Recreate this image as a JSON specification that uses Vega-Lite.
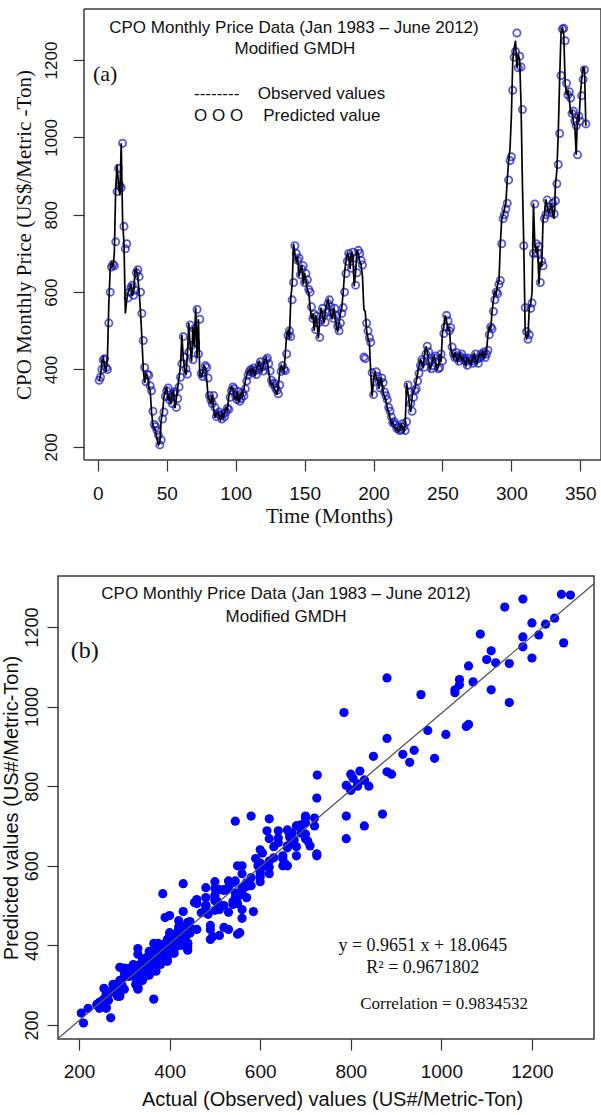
{
"$schema": "https://vega.github.io/schema/vega-lite/v6.json",
"background": "white",
"padding": {"left": 0, "top": 8, "right": 0, "bottom": 0},
"autosize": {"type": "pad"},
"config": {
  "view": {"stroke": "#3a3a3a", "strokeWidth": 1.5},
  "axis": {"grid": false, "domain": false, "tickColor": "#333", "tickWidth": 1.2, "labelColor": "#111", "titleColor": "#111", "labelFont": "Liberation Sans", "titleFontWeight": "normal", "format": "d"},
  "text": {"color": "#111"}
},
"datasets": {"cpo": [
{"month":1,"observed":370,"predicted":372},{"month":2,"observed":385,"predicted":380},{"month":3,"observed":420,"predicted":400},{"month":4,"observed":430,"predicted":425},{"month":5,"observed":410,"predicted":428},{"month":6,"observed":395,"predicted":405},{"month":7,"observed":430,"predicted":400},{"month":8,"observed":570,"predicted":520},{"month":9,"observed":660,"predicted":600},{"month":10,"observed":675,"predicted":665},
{"month":11,"observed":665,"predicted":672},{"month":12,"observed":700,"predicted":668},{"month":13,"observed":870,"predicted":730},{"month":14,"observed":930,"predicted":860},{"month":15,"observed":880,"predicted":920},{"month":16,"observed":850,"predicted":875},{"month":17,"observed":985,"predicted":870},{"month":18,"observed":785,"predicted":985},{"month":19,"observed":725,"predicted":770},{"month":20,"observed":545,"predicted":712},
{"month":21,"observed":580,"predicted":725},{"month":22,"observed":600,"predicted":585},{"month":23,"observed":610,"predicted":600},{"month":24,"observed":620,"predicted":612},{"month":25,"observed":590,"predicted":618},{"month":26,"observed":600,"predicted":592},{"month":27,"observed":655,"predicted":605},{"month":28,"observed":660,"predicted":650},{"month":29,"observed":640,"predicted":658},{"month":30,"observed":600,"predicted":640},
{"month":31,"observed":550,"predicted":600},{"month":32,"observed":480,"predicted":545},{"month":33,"observed":400,"predicted":475},{"month":34,"observed":365,"predicted":405},{"month":35,"observed":390,"predicted":368},{"month":36,"observed":385,"predicted":388},{"month":37,"observed":355,"predicted":385},{"month":38,"observed":345,"predicted":358},{"month":39,"observed":290,"predicted":345},{"month":40,"observed":255,"predicted":292},
{"month":41,"observed":250,"predicted":258},{"month":42,"observed":240,"predicted":252},{"month":43,"observed":220,"predicted":242},{"month":44,"observed":205,"predicted":230},{"month":45,"observed":210,"predicted":205},{"month":46,"observed":270,"predicted":218},{"month":47,"observed":290,"predicted":272},{"month":48,"observed":330,"predicted":290},{"month":49,"observed":345,"predicted":330},{"month":50,"observed":355,"predicted":345},
{"month":51,"observed":320,"predicted":352},{"month":52,"observed":330,"predicted":322},{"month":53,"observed":310,"predicted":328},{"month":54,"observed":340,"predicted":312},{"month":55,"observed":345,"predicted":338},{"month":56,"observed":300,"predicted":343},{"month":57,"observed":325,"predicted":302},{"month":58,"observed":355,"predicted":325},{"month":59,"observed":380,"predicted":355},{"month":60,"observed":410,"predicted":380},
{"month":61,"observed":490,"predicted":415},{"month":62,"observed":430,"predicted":485},{"month":63,"observed":400,"predicted":432},{"month":64,"observed":385,"predicted":402},{"month":65,"observed":440,"predicted":388},{"month":66,"observed":520,"predicted":445},{"month":67,"observed":460,"predicted":515},{"month":68,"observed":420,"predicted":462},{"month":69,"observed":510,"predicted":425},{"month":70,"observed":460,"predicted":505},
{"month":71,"observed":560,"predicted":468},{"month":72,"observed":430,"predicted":555},{"month":73,"observed":530,"predicted":440},{"month":74,"observed":385,"predicted":530},{"month":75,"observed":380,"predicted":390},{"month":76,"observed":390,"predicted":382},{"month":77,"observed":410,"predicted":392},{"month":78,"observed":405,"predicted":410},{"month":79,"observed":375,"predicted":405},{"month":80,"observed":330,"predicted":378},
{"month":81,"observed":320,"predicted":333},{"month":82,"observed":310,"predicted":322},{"month":83,"observed":335,"predicted":312},{"month":84,"observed":300,"predicted":333},{"month":85,"observed":275,"predicted":302},{"month":86,"observed":285,"predicted":278},{"month":87,"observed":290,"predicted":285},{"month":88,"observed":280,"predicted":290},{"month":89,"observed":270,"predicted":282},{"month":90,"observed":285,"predicted":272},
{"month":91,"observed":275,"predicted":285},{"month":92,"observed":290,"predicted":278},{"month":93,"observed":300,"predicted":290},{"month":94,"observed":295,"predicted":300},{"month":95,"observed":330,"predicted":297},{"month":96,"observed":345,"predicted":328},{"month":97,"observed":355,"predicted":345},{"month":98,"observed":350,"predicted":355},{"month":99,"observed":330,"predicted":350},{"month":100,"observed":320,"predicted":332},
{"month":101,"observed":345,"predicted":322},{"month":102,"observed":315,"predicted":343},{"month":103,"observed":325,"predicted":318},{"month":104,"observed":340,"predicted":325},{"month":105,"observed":330,"predicted":340},{"month":106,"observed":350,"predicted":332},{"month":107,"observed":370,"predicted":350},{"month":108,"observed":385,"predicted":370},{"month":109,"observed":395,"predicted":385},{"month":110,"observed":400,"predicted":395},
{"month":111,"observed":390,"predicted":400},{"month":112,"observed":405,"predicted":392},{"month":113,"observed":395,"predicted":404},{"month":114,"observed":385,"predicted":396},{"month":115,"observed":400,"predicted":387},{"month":116,"observed":410,"predicted":400},{"month":117,"observed":420,"predicted":410},{"month":118,"observed":405,"predicted":420},{"month":119,"observed":395,"predicted":406},{"month":120,"observed":410,"predicted":396},
{"month":121,"observed":425,"predicted":410},{"month":122,"observed":430,"predicted":425},{"month":123,"observed":415,"predicted":430},{"month":124,"observed":395,"predicted":415},{"month":125,"observed":370,"predicted":396},{"month":126,"observed":360,"predicted":372},{"month":127,"observed":365,"predicted":362},{"month":128,"observed":350,"predicted":365},{"month":129,"observed":345,"predicted":352},{"month":130,"observed":335,"predicted":346},
{"month":131,"observed":360,"predicted":337},{"month":132,"observed":395,"predicted":360},{"month":133,"observed":410,"predicted":395},{"month":134,"observed":400,"predicted":410},{"month":135,"observed":395,"predicted":400},{"month":136,"observed":440,"predicted":397},{"month":137,"observed":490,"predicted":440},{"month":138,"observed":500,"predicted":488},{"month":139,"observed":480,"predicted":500},{"month":140,"observed":585,"predicted":485},
{"month":141,"observed":620,"predicted":580},{"month":142,"observed":725,"predicted":625},{"month":143,"observed":700,"predicted":720},{"month":144,"observed":680,"predicted":700},{"month":145,"observed":690,"predicted":682},{"month":146,"observed":640,"predicted":688},{"month":147,"observed":660,"predicted":645},{"month":148,"observed":670,"predicted":660},{"month":149,"observed":620,"predicted":668},{"month":150,"observed":650,"predicted":625},
{"month":151,"observed":630,"predicted":648},{"month":152,"observed":605,"predicted":632},{"month":153,"observed":600,"predicted":607},{"month":154,"observed":560,"predicted":600},{"month":155,"observed":530,"predicted":562},{"month":156,"observed":545,"predicted":532},{"month":157,"observed":500,"predicted":543},{"month":158,"observed":540,"predicted":503},{"month":159,"observed":520,"predicted":538},{"month":160,"observed":480,"predicted":520},
{"month":161,"observed":530,"predicted":483},{"month":162,"observed":560,"predicted":528},{"month":163,"observed":540,"predicted":558},{"month":164,"observed":520,"predicted":540},{"month":165,"observed":550,"predicted":522},{"month":166,"observed":570,"predicted":548},{"month":167,"observed":580,"predicted":570},{"month":168,"observed":560,"predicted":580},{"month":169,"observed":545,"predicted":562},{"month":170,"observed":530,"predicted":546},
{"month":171,"observed":560,"predicted":532},{"month":172,"observed":540,"predicted":558},{"month":173,"observed":510,"predicted":540},{"month":174,"observed":500,"predicted":512},{"month":175,"observed":520,"predicted":500},{"month":176,"observed":545,"predicted":520},{"month":177,"observed":560,"predicted":545},{"month":178,"observed":600,"predicted":560},{"month":179,"observed":650,"predicted":600},{"month":180,"observed":680,"predicted":648},
{"month":181,"observed":700,"predicted":680},{"month":182,"observed":690,"predicted":700},{"month":183,"observed":660,"predicted":690},{"month":184,"observed":705,"predicted":662},{"month":185,"observed":690,"predicted":703},{"month":186,"observed":615,"predicted":688},{"month":187,"observed":650,"predicted":618},{"month":188,"observed":710,"predicted":650},{"month":189,"observed":700,"predicted":708},{"month":190,"observed":680,"predicted":700},
{"month":191,"observed":670,"predicted":682},{"month":192,"observed":640,"predicted":670},{"month":193,"observed":555,"predicted":432},{"month":194,"observed":550,"predicted":428},{"month":195,"observed":500,"predicted":520},{"month":196,"observed":480,"predicted":500},{"month":197,"observed":470,"predicted":482},{"month":198,"observed":390,"predicted":470},{"month":199,"observed":330,"predicted":392},{"month":200,"observed":370,"predicted":335},
{"month":201,"observed":395,"predicted":368},{"month":202,"observed":380,"predicted":394},{"month":203,"observed":370,"predicted":382},{"month":204,"observed":350,"predicted":370},{"month":205,"observed":380,"predicted":352},{"month":206,"observed":365,"predicted":378},{"month":207,"observed":340,"predicted":366},{"month":208,"observed":330,"predicted":342},{"month":209,"observed":320,"predicted":332},{"month":210,"observed":300,"predicted":322},
{"month":211,"observed":290,"predicted":302},{"month":212,"observed":275,"predicted":292},{"month":213,"observed":260,"predicted":277},{"month":214,"observed":265,"predicted":262},{"month":215,"observed":255,"predicted":265},{"month":216,"observed":245,"predicted":257},{"month":217,"observed":250,"predicted":247},{"month":218,"observed":240,"predicted":250},{"month":219,"observed":245,"predicted":242},{"month":220,"observed":260,"predicted":245},
{"month":221,"observed":250,"predicted":260},{"month":222,"observed":240,"predicted":252},{"month":223,"observed":260,"predicted":242},{"month":224,"observed":365,"predicted":265},{"month":225,"observed":340,"predicted":360},{"month":226,"observed":310,"predicted":342},{"month":227,"observed":290,"predicted":312},{"month":228,"observed":330,"predicted":292},{"month":229,"observed":345,"predicted":328},{"month":230,"observed":350,"predicted":345},
{"month":231,"observed":370,"predicted":350},{"month":232,"observed":390,"predicted":370},{"month":233,"observed":410,"predicted":390},{"month":234,"observed":425,"predicted":410},{"month":235,"observed":420,"predicted":425},{"month":236,"observed":405,"predicted":420},{"month":237,"observed":440,"predicted":406},{"month":238,"observed":460,"predicted":440},{"month":239,"observed":445,"predicted":460},{"month":240,"observed":420,"predicted":446},
{"month":241,"observed":400,"predicted":421},{"month":242,"observed":410,"predicted":402},{"month":243,"observed":430,"predicted":410},{"month":244,"observed":435,"predicted":430},{"month":245,"observed":420,"predicted":435},{"month":246,"observed":400,"predicted":421},{"month":247,"observed":405,"predicted":402},{"month":248,"observed":440,"predicted":405},{"month":249,"observed":420,"predicted":440},{"month":250,"observed":495,"predicted":422},
{"month":251,"observed":510,"predicted":493},{"month":252,"observed":540,"predicted":510},{"month":253,"observed":525,"predicted":540},{"month":254,"observed":500,"predicted":526},{"month":255,"observed":510,"predicted":500},{"month":256,"observed":455,"predicted":508},{"month":257,"observed":440,"predicted":458},{"month":258,"observed":430,"predicted":441},{"month":259,"observed":445,"predicted":431},{"month":260,"observed":430,"predicted":444},
{"month":261,"observed":420,"predicted":431},{"month":262,"observed":435,"predicted":421},{"month":263,"observed":440,"predicted":434},{"month":264,"observed":425,"predicted":440},{"month":265,"observed":430,"predicted":426},{"month":266,"observed":420,"predicted":430},{"month":267,"observed":410,"predicted":421},{"month":268,"observed":430,"predicted":411},{"month":269,"observed":425,"predicted":430},{"month":270,"observed":420,"predicted":425},
{"month":271,"observed":415,"predicted":421},{"month":272,"observed":430,"predicted":416},{"month":273,"observed":440,"predicted":430},{"month":274,"observed":425,"predicted":440},{"month":275,"observed":415,"predicted":426},{"month":276,"observed":430,"predicted":416},{"month":277,"observed":440,"predicted":430},{"month":278,"observed":435,"predicted":440},{"month":279,"observed":445,"predicted":436},{"month":280,"observed":430,"predicted":445},
{"month":281,"observed":440,"predicted":431},{"month":282,"observed":450,"predicted":440},{"month":283,"observed":490,"predicted":450},{"month":284,"observed":510,"predicted":490},{"month":285,"observed":505,"predicted":510},{"month":286,"observed":550,"predicted":505},{"month":287,"observed":580,"predicted":550},{"month":288,"observed":600,"predicted":580},{"month":289,"observed":595,"predicted":600},{"month":290,"observed":620,"predicted":596},
{"month":291,"observed":630,"predicted":620},{"month":292,"observed":725,"predicted":630},{"month":293,"observed":790,"predicted":725},{"month":294,"observed":800,"predicted":790},{"month":295,"observed":815,"predicted":800},{"month":296,"observed":830,"predicted":815},{"month":297,"observed":890,"predicted":830},{"month":298,"observed":940,"predicted":890},{"month":299,"observed":970,"predicted":940},{"month":300,"observed":1055,"predicted":950},
{"month":301,"observed":1200,"predicted":1122},{"month":302,"observed":1230,"predicted":1207},{"month":303,"observed":1250,"predicted":1222},{"month":304,"observed":1180,"predicted":1270},{"month":305,"observed":1215,"predicted":1180},{"month":306,"observed":1200,"predicted":1210},{"month":307,"observed":1086,"predicted":1182},{"month":308,"observed":880,"predicted":1072},{"month":309,"observed":720,"predicted":720},{"month":310,"observed":500,"predicted":560},
{"month":311,"observed":480,"predicted":498},{"month":312,"observed":485,"predicted":478},{"month":313,"observed":560,"predicted":490},{"month":314,"observed":570,"predicted":558},{"month":315,"observed":600,"predicted":572},{"month":316,"observed":830,"predicted":700},{"month":317,"observed":726,"predicted":828},{"month":318,"observed":700,"predicted":725},{"month":319,"observed":720,"predicted":700},{"month":320,"observed":620,"predicted":718},
{"month":321,"observed":680,"predicted":625},{"month":322,"observed":665,"predicted":680},{"month":323,"observed":790,"predicted":668},{"month":324,"observed":800,"predicted":790},{"month":325,"observed":840,"predicted":800},{"month":326,"observed":820,"predicted":838},{"month":327,"observed":805,"predicted":820},{"month":328,"observed":815,"predicted":806},{"month":329,"observed":830,"predicted":815},{"month":330,"observed":800,"predicted":830},
{"month":331,"observed":790,"predicted":802},{"month":332,"observed":880,"predicted":836},{"month":333,"observed":915,"predicted":880},{"month":334,"observed":1010,"predicted":930},{"month":335,"observed":1150,"predicted":1010},{"month":336,"observed":1270,"predicted":1160},{"month":337,"observed":1285,"predicted":1280},{"month":338,"observed":1265,"predicted":1282},{"month":339,"observed":1140,"predicted":1250},{"month":340,"observed":1110,"predicted":1140},
{"month":341,"observed":1120,"predicted":1110},{"month":342,"observed":1100,"predicted":1118},{"month":343,"observed":1060,"predicted":1102},{"month":344,"observed":1070,"predicted":1062},{"month":345,"observed":1040,"predicted":1068},{"month":346,"observed":1030,"predicted":1042},{"month":347,"observed":955,"predicted":1030},{"month":348,"observed":1060,"predicted":955},{"month":349,"observed":1040,"predicted":1055},{"month":350,"observed":1110,"predicted":1042},
{"month":351,"observed":1150,"predicted":1108},{"month":352,"observed":1180,"predicted":1150},{"month":353,"observed":1180,"predicted":1175},{"month":354,"observed":1030,"predicted":1035}
]},
"concat": [
{
  "width": 543, "height": 451,
  "view": {"stroke": null},
  "layer": [
    {"data": {"name": "cpo"},
     "mark": {"type": "point", "shape": "circle", "filled": false, "color": "#1414c8", "size": 52, "strokeWidth": 1.8},
     "encoding": {
       "x": {"field": "month", "type": "quantitative", "scale": {"domain": [-28.86, 365], "nice": false, "zero": false},
             "axis": {"values": [0,50,100,150,200,250,300,350], "tickSize": 11, "labelPadding": 13, "labelFontSize": 19, "labelFont": "Liberation Sans", "titleFont": "Liberation Serif", "titleFontSize": 21, "titlePadding": 2, "titleX": 271},
             "title": "Time (Months)"},
       "y": {"field": "predicted", "type": "quantitative", "scale": {"domain": [166, 1332], "nice": false, "zero": false},
             "axis": {"values": [200,400,600,800,1000,1200], "offset": -26, "tickSize": 11, "labelAngle": -90, "labelAlign": "center", "labelBaseline": "bottom", "labelPadding": 13, "labelFontSize": 17, "titleFont": "Liberation Serif", "titleFontSize": 21, "titlePadding": 8},
             "title": "CPO Monthly Price (US$/Metric -Ton)"}
     }},
    {"data": {"name": "cpo"},
     "mark": {"type": "line", "color": "#000000", "strokeWidth": 1.7},
     "encoding": {
       "x": {"field": "month", "type": "quantitative", "title": "Time (Months)"},
       "y": {"field": "observed", "type": "quantitative", "title": "CPO Monthly Price (US$/Metric -Ton)"}
     }},
    {"data": {"values": [{}]}, "mark": {"type": "rule", "color": "#3a3a3a", "strokeWidth": 1.5},
     "encoding": {"x": {"datum": -10, "type": "quantitative"}, "y": {"datum": 166, "type": "quantitative"}, "y2": {"datum": 1332}}},
    {"data": {"values": [{}]}, "mark": {"type": "rule", "color": "#3a3a3a", "strokeWidth": 1.5},
     "encoding": {"x": {"datum": 365, "type": "quantitative"}, "y": {"datum": 166, "type": "quantitative"}, "y2": {"datum": 1332}}},
    {"data": {"values": [{}]}, "mark": {"type": "rule", "color": "#3a3a3a", "strokeWidth": 1.5},
     "encoding": {"x": {"datum": -10, "type": "quantitative"}, "x2": {"datum": 365}, "y": {"datum": 1332, "type": "quantitative"}}},
    {"data": {"values": [{}]}, "mark": {"type": "rule", "color": "#3a3a3a", "strokeWidth": 1.5},
     "encoding": {"x": {"datum": -10, "type": "quantitative"}, "x2": {"datum": 365}, "y": {"datum": 166, "type": "quantitative"}}},
    {"data": {"values": [{}]}, "mark": {"type": "text", "text": "CPO Monthly Price Data (Jan 1983 – June 2012)", "font": "Liberation Sans", "fontSize": 17, "align": "center", "baseline": "middle"},
     "encoding": {"x": {"datum": 142.3, "type": "quantitative"}, "y": {"datum": 1283, "type": "quantitative"}}},
    {"data": {"values": [{}]}, "mark": {"type": "text", "text": "Modified GMDH", "font": "Liberation Sans", "fontSize": 17, "align": "center", "baseline": "middle"},
     "encoding": {"x": {"datum": 143, "type": "quantitative"}, "y": {"datum": 1229, "type": "quantitative"}}},
    {"data": {"values": [{}]}, "mark": {"type": "text", "text": "(a)", "font": "Liberation Serif", "fontSize": 22, "align": "left", "baseline": "middle"},
     "encoding": {"x": {"datum": -3.5, "type": "quantitative"}, "y": {"datum": 1164, "type": "quantitative"}}},
    {"data": {"values": [{}]}, "mark": {"type": "text", "text": "--------", "font": "Liberation Sans", "fontSize": 17, "align": "left", "baseline": "middle"},
     "encoding": {"x": {"datum": 69.8, "type": "quantitative"}, "y": {"datum": 1112, "type": "quantitative"}}},
    {"data": {"values": [{}]}, "mark": {"type": "text", "text": "Observed values", "font": "Liberation Sans", "fontSize": 17, "align": "left", "baseline": "middle"},
     "encoding": {"x": {"datum": 116, "type": "quantitative"}, "y": {"datum": 1112, "type": "quantitative"}}},
    {"data": {"values": [{}]}, "mark": {"type": "text", "text": "O O O", "font": "Liberation Sans", "fontSize": 17, "align": "left", "baseline": "middle"},
     "encoding": {"x": {"datum": 69.8, "type": "quantitative"}, "y": {"datum": 1055, "type": "quantitative"}}},
    {"data": {"values": [{}]}, "mark": {"type": "text", "text": "Predicted value", "font": "Liberation Sans", "fontSize": 17, "align": "left", "baseline": "middle"},
     "encoding": {"x": {"datum": 120, "type": "quantitative"}, "y": {"datum": 1055, "type": "quantitative"}}}
  ]
},
{
  "width": 536, "height": 463,
  "layer": [
    {"data": {"name": "cpo"},
     "mark": {"type": "point", "shape": "circle", "filled": true, "color": "#0000ff", "size": 85, "opacity": 1},
     "encoding": {
       "x": {"field": "observed", "type": "quantitative", "scale": {"domain": [153.6, 1337], "nice": false, "zero": false},
             "axis": {"values": [200,400,600,800,1000,1200], "tickSize": 11, "labelPadding": 12, "labelFontSize": 19, "titleFont": "Liberation Sans", "titleFontSize": 20, "titlePadding": 8, "titleX": 274},
             "title": "Actual (Observed) values (US#/Metric-Ton)"},
       "y": {"field": "predicted", "type": "quantitative", "scale": {"domain": [164.8, 1328], "nice": false, "zero": false},
             "axis": {"values": [200,400,600,800,1000,1200], "tickSize": 11, "labelAngle": -90, "labelAlign": "center", "labelBaseline": "bottom", "labelPadding": 6, "labelFontSize": 18, "titleFont": "Liberation Sans", "titleFontSize": 20, "titlePadding": 2},
             "title": "Predicted values (US#/Metric-Ton)"}
     }},
    {"data": {"values": [{}]}, "mark": {"type": "rule", "color": "#555555", "strokeWidth": 1.3},
     "encoding": {"x": {"datum": 153.6, "type": "quantitative"}, "y": {"datum": 166.3, "type": "quantitative"}, "x2": {"datum": 1337}, "y2": {"datum": 1308.4}}},
    {"data": {"values": [{}]}, "mark": {"type": "text", "text": "CPO Monthly Price Data (Jan 1983 – June 2012)", "font": "Liberation Sans", "fontSize": 17, "align": "center", "baseline": "middle"},
     "encoding": {"x": {"datum": 657, "type": "quantitative"}, "y": {"datum": 1283, "type": "quantitative"}}},
    {"data": {"values": [{}]}, "mark": {"type": "text", "text": "Modified GMDH", "font": "Liberation Sans", "fontSize": 17, "align": "center", "baseline": "middle"},
     "encoding": {"x": {"datum": 657, "type": "quantitative"}, "y": {"datum": 1225, "type": "quantitative"}}},
    {"data": {"values": [{}]}, "mark": {"type": "text", "text": "(b)", "font": "Liberation Serif", "fontSize": 24, "align": "left", "baseline": "middle"},
     "encoding": {"x": {"datum": 182, "type": "quantitative"}, "y": {"datum": 1140, "type": "quantitative"}}},
    {"data": {"values": [{}]}, "mark": {"type": "text", "text": "y = 0.9651 x + 18.0645", "font": "Liberation Serif", "fontSize": 18, "align": "center", "baseline": "middle"},
     "encoding": {"x": {"datum": 959, "type": "quantitative"}, "y": {"datum": 398, "type": "quantitative"}}},
    {"data": {"values": [{}]}, "mark": {"type": "text", "text": "R² = 0.9671802", "font": "Liberation Serif", "fontSize": 18, "align": "center", "baseline": "middle"},
     "encoding": {"x": {"datum": 959, "type": "quantitative"}, "y": {"datum": 343, "type": "quantitative"}}},
    {"data": {"values": [{}]}, "mark": {"type": "text", "text": "Correlation = 0.9834532", "font": "Liberation Serif", "fontSize": 17, "align": "center", "baseline": "middle"},
     "encoding": {"x": {"datum": 1006, "type": "quantitative"}, "y": {"datum": 253, "type": "quantitative"}}}
  ]
}
],
"columns": 1,
"align": "none",
"spacing": 49
}
